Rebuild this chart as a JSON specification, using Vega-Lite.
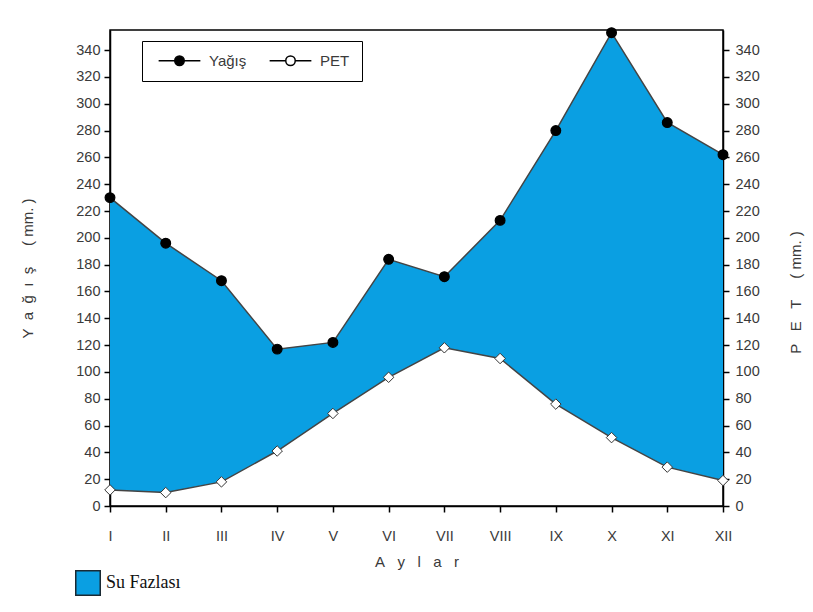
{
  "$schema": "https://vega.github.io/schema/vega-lite/v6.json",
  "width": 613,
  "height": 476,
  "autosize": {"type": "none"},
  "padding": {"left": 110, "top": 30, "right": 90, "bottom": 106},
  "background": "white",
  "config": {
    "view": {"stroke": "black", "strokeWidth": 1.5},
    "font": "Liberation Sans",
    "legend": {"labelFont": "Liberation Serif"},
    "axis": {
      "grid": false,
      "domainColor": "black",
      "domainWidth": 1.5,
      "tickColor": "black",
      "tickWidth": 1.5,
      "tickSize": 6,
      "labelFont": "Liberation Sans",
      "labelFontSize": 14.5,
      "labelColor": "#3a3a3a",
      "titleFont": "Liberation Sans",
      "titleFontSize": 15,
      "titleFontWeight": "normal",
      "titleColor": "#3a3a3a"
    }
  },
  "data": {
    "values": [
      {"ay": "I", "yagis": 230, "pet": 12},
      {"ay": "II", "yagis": 196, "pet": 10},
      {"ay": "III", "yagis": 168, "pet": 18},
      {"ay": "IV", "yagis": 117, "pet": 41},
      {"ay": "V", "yagis": 122, "pet": 69},
      {"ay": "VI", "yagis": 184, "pet": 96},
      {"ay": "VII", "yagis": 171, "pet": 118},
      {"ay": "VIII", "yagis": 213, "pet": 110},
      {"ay": "IX", "yagis": 280, "pet": 76},
      {"ay": "X", "yagis": 353, "pet": 51},
      {"ay": "XI", "yagis": 286, "pet": 29},
      {"ay": "XII", "yagis": 262, "pet": 19}
    ]
  },
  "encoding": {
    "x": {
      "field": "ay",
      "type": "ordinal",
      "sort": ["I", "II", "III", "IV", "V", "VI", "VII", "VIII", "IX", "X", "XI", "XII"],
      "scale": {"type": "point", "padding": 0},
      "axis": {
        "title": "A\u00a0\u00a0\u00a0y\u00a0\u00a0\u00a0l\u00a0\u00a0\u00a0a\u00a0\u00a0\u00a0r",
        "labelAngle": 0,
        "labelPadding": 17,
        "titlePadding": 12,
        "tickSize": 6
      }
    }
  },
  "layer": [
    {
      "mark": {"type": "area", "opacity": 1},
      "encoding": {
        "y": {
          "field": "yagis",
          "type": "quantitative",
          "scale": {"domain": [0, 355], "nice": false, "zero": true},
          "axis": {
            "orient": "left",
            "title": "Y\u00a0\u00a0a\u00a0\u00a0ğ\u00a0\u00a0ı\u00a0\u00a0ş\u00a0\u00a0\u00a0\u00a0\u00a0(\u00a0mm.\u00a0)",
            "values": [0, 20, 40, 60, 80, 100, 120, 140, 160, 180, 200, 220, 240, 260, 280, 300, 320, 340],
            "labelPadding": 4,
            "titlePadding": 40
          }
        },
        "y2": {"field": "pet"},
        "color": {
          "datum": "Su Fazlası",
          "type": "nominal",
          "scale": {"range": ["#0a9fe2"]},
          "legend": {
            "orient": "none",
            "legendX": -35,
            "legendY": 540,
            "title": null,
            "symbolType": "square",
            "symbolSize": 600,
            "symbolStrokeColor": "#1a2a33",
            "symbolStrokeWidth": 1.5,
            "symbolOpacity": 1,
            "labelFont": "Liberation Serif",
            "labelFontSize": 18,
            "labelColor": "#111",
            "labelOffset": 5
          }
        }
      }
    },
    {
      "mark": {"type": "line", "color": "#444", "strokeWidth": 1.5},
      "encoding": {
        "y": {
          "field": "yagis",
          "type": "quantitative",
          "scale": {"domain": [0, 355], "nice": false},
          "axis": {
            "orient": "right",
            "title": "P\u00a0\u00a0\u00a0E\u00a0\u00a0\u00a0T\u00a0\u00a0\u00a0\u00a0\u00a0(\u00a0mm.\u00a0)",
            "titleAngle": 270,
            "titleY": 262,
            "values": [0, 20, 40, 60, 80, 100, 120, 140, 160, 180, 200, 220, 240, 260, 280, 300, 320, 340],
            "labelPadding": 6,
            "titlePadding": 44
          }
        }
      }
    },
    {
      "mark": {"type": "line", "color": "#444", "strokeWidth": 1.5},
      "encoding": {
        "y": {"field": "pet", "type": "quantitative", "scale": {"domain": [0, 355], "nice": false}, "axis": null}
      }
    },
    {
      "mark": {"type": "point", "shape": "diamond", "filled": true, "fill": "white", "size": 110, "stroke": "#333", "strokeWidth": 1, "opacity": 1},
      "encoding": {
        "y": {"field": "pet", "type": "quantitative", "scale": {"domain": [0, 355], "nice": false}, "axis": null}
      }
    },
    {
      "mark": {"type": "point", "filled": true, "size": 95, "stroke": "black", "strokeWidth": 1.2, "opacity": 1},
      "encoding": {
        "y": {"field": "yagis", "type": "quantitative", "scale": {"domain": [0, 355], "nice": false}, "axis": null},
        "fill": {
          "datum": "yagis",
          "type": "nominal",
          "scale": {"domain": ["yagis", "pet"], "range": ["black", "white"]},
          "legend": {
            "orient": "none",
            "legendX": 32,
            "legendY": 11,
            "direction": "horizontal",
            "title": null,
            "symbolType": "M-4.4,0H-1M1,0H4.4M1,0A1,1,0,1,1,-1,0A1,1,0,1,1,1,0Z",
            "symbolSize": 90,
            "symbolOffset": 18,
            "symbolStrokeColor": "black",
            "symbolStrokeWidth": 1.5,
            "symbolOpacity": 1,
            "labelExpr": "datum.label == 'yagis' ? 'Yağış' : 'PET'",
            "labelFont": "Liberation Sans",
            "labelFontSize": 15,
            "labelColor": "#3a3a3a",
            "labelOffset": 22,
            "columnPadding": 18,
            "strokeColor": "black",
            "fillColor": "white",
            "padding": 12
          }
        }
      }
    }
  ],
  "resolve": {"axis": {"y": "independent"}}
}
